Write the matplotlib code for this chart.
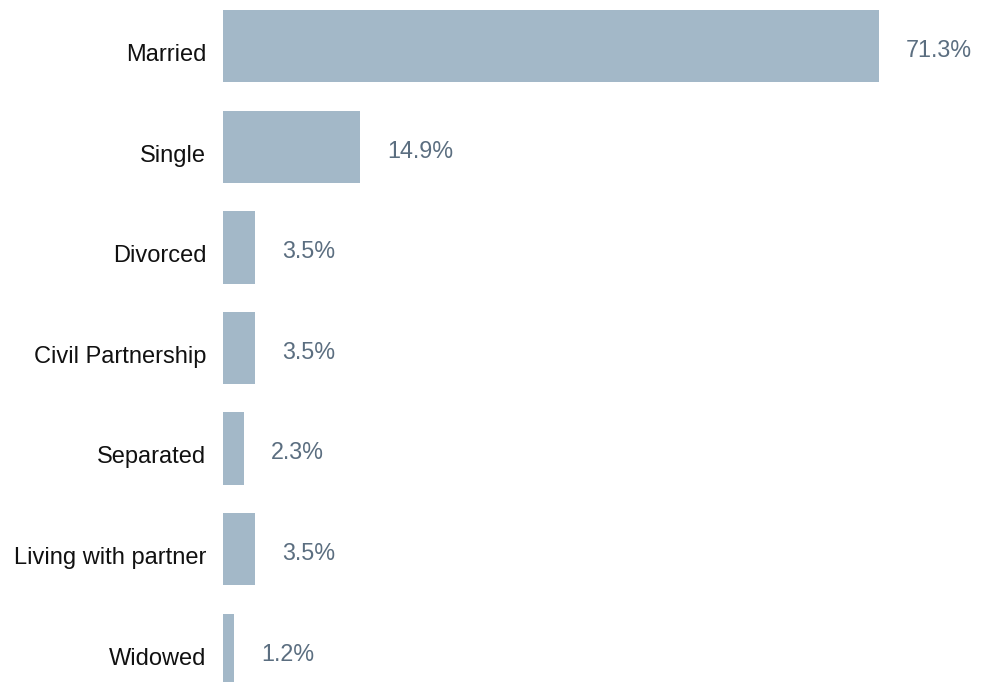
import matplotlib
matplotlib.use("Agg")
import matplotlib.pyplot as plt

# marital status breakdown, percent of respondents
categories = ["Married", "Single", "Divorced", "Civil Partnership",
              "Separated", "Living with partner", "Widowed"]
shares = [71.3, 14.9, 3.5, 3.5, 2.3, 3.5, 1.2]

plt.rcParams["font.family"] = ["Liberation Sans", "DejaVu Sans"]

W, H = 990, 682
fig = plt.figure(figsize=(W / 100, H / 100), dpi=100)
ax = fig.add_axes([223 / W, 0, 736 / W, 672 / H])

pos = list(range(len(categories)))
ax.barh(pos, shares, height=0.72, color="#a3b8c8")
ax.set_ylim(6.32, -0.36)
ax.set_xlim(0, 80)

# value labels right of each bar, category names left of the axis
for y, v, name in zip(pos, shares, categories):
    ax.annotate(f"{v}%", (v, y), xytext=(19.5, -7.8), textcoords="offset points",
                va="baseline", ha="left", fontsize=16.8, color="#5b6e80")
    ax.annotate(name, (0, y), xytext=(-12, -10.6), textcoords="offset points",
                va="baseline", ha="right", fontsize=17, color="#111111",
                annotation_clip=False)

ax.set_yticks([])
ax.set_xticks([])
for s in ax.spines.values():
    s.set_visible(False)

fig.savefig("out.png", dpi=100)
